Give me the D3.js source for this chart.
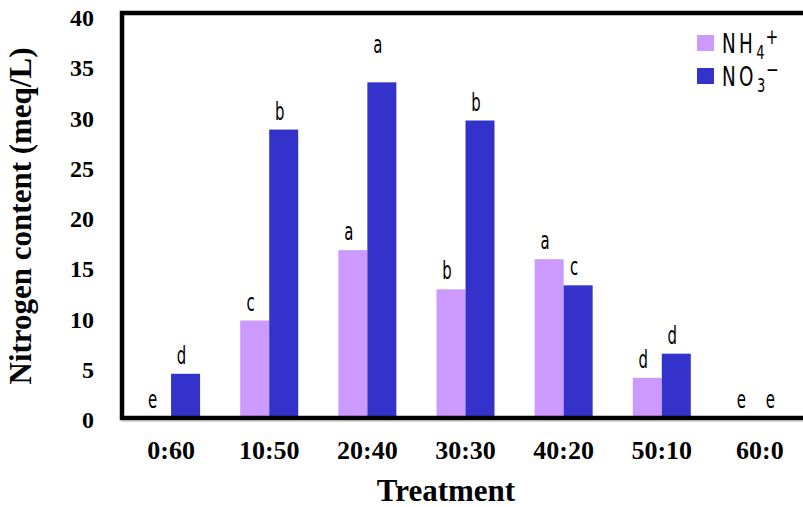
<!DOCTYPE html>
<html>
<head>
<meta charset="utf-8">
<script src="https://cdn.jsdelivr.net/npm/d3@7/dist/d3.min.js"></script>
<style>
  html, body { margin: 0; padding: 0; background: #fff; }
  svg { display: block; }
</style>
</head>
<body>
<svg id="chart" width="803" height="507"></svg>
<script>
// Nitrogen content by NH4+:NO3- treatment ratio
const categories = ["0:60", "10:50", "20:40", "30:30", "40:20", "50:10", "60:0"];
const nh4 = [0, 9.7, 16.7, 12.8, 15.8, 4.0, 0];
const no3 = [4.4, 28.7, 33.4, 29.6, 13.2, 6.4, 0];
const nh4Letters = ["e", "c", "a", "b", "a", "d", "e"];
const no3Letters = ["d", "b", "a", "b", "c", "d", "e"];
const yTicks = [0, 5, 10, 15, 20, 25, 30, 35, 40];

const colors = { nh4: "#CC99FF", no3: "#3333CC" };
const serif = "'Times New Roman', 'Liberation Serif', serif";
const narrow = "'Liberation Sans Narrow', 'DejaVu Sans Condensed', 'Arial Narrow', sans-serif";

const svg = d3.select("#chart");
const plot = { left: 122, right: 809, top: 13, bottom: 418 };

const x = d3.scaleBand().domain(categories).range([plot.left, plot.right]).padding(0);
const y = d3.scaleLinear().domain([0, 40]).range([plot.bottom, 16]);
const barW = 29;

const series = [
  { key: "nh4", values: nh4, letters: nh4Letters, offset: -barW },
  { key: "no3", values: no3, letters: no3Letters, offset: 0 }
];

// bars
series.forEach(s => {
  svg.append("g").selectAll("rect")
    .data(categories)
    .join("rect")
    .attr("x", (c) => x(c) + x.bandwidth() / 2 + s.offset)
    .attr("y", (c, i) => y(s.values[i]))
    .attr("width", barW)
    .attr("height", (c, i) => y(0) - y(s.values[i]))
    .attr("fill", colors[s.key]);
});

// significance letters (the tallest NO3- bar's letter sits higher)
const extraLift = { "no3|20:40": 19 };
series.forEach(s => {
  svg.append("g").selectAll("text")
    .data(categories)
    .join("text")
    .attr("transform", (c, i) => {
      const tx = x(c) + x.bandwidth() / 2 + s.offset + barW / 2 - 4;
      const ty = y(s.values[i]) - 10 - (extraLift[s.key + "|" + c] || 0);
      return `translate(${tx},${ty}) scale(0.72,1.08)`;
    })
    .attr("text-anchor", "middle")
    .attr("font-family", narrow)
    .attr("font-size", 23)
    .attr("fill", "#000")
    .text((c, i) => s.letters[i]);
});

// frame: left, top and bottom edges
const frame = svg.append("g").attr("stroke", "#000").attr("stroke-width", 4.5).attr("fill", "none");
frame.append("path")
  .attr("d", `M${plot.right},${plot.top}H${plot.left}V${plot.bottom}H${plot.right}`);
svg.append("line")
  .attr("x1", plot.left).attr("x2", plot.right)
  .attr("y1", plot.bottom + 3).attr("y2", plot.bottom + 3)
  .attr("stroke", "#aaa").attr("stroke-width", 1);

// y axis tick labels
const yAxis = d3.axisLeft(y).tickValues(yTicks).tickSize(0).tickPadding(0);
const yg = svg.append("g").attr("transform", `translate(94,2)`).call(yAxis);
yg.select(".domain").remove();
yg.selectAll("text")
  .attr("font-family", serif).attr("font-weight", "bold").attr("font-size", 24).attr("fill", "#000");

// x axis tick labels
const xAxis = d3.axisBottom(x).tickSize(0).tickPadding(0);
const xg = svg.append("g").attr("transform", `translate(0,${plot.bottom})`).call(xAxis);
xg.select(".domain").remove();
xg.selectAll("text")
  .attr("dy", 0).attr("y", 41)
  .attr("font-family", serif).attr("font-weight", "bold").attr("font-size", 26).attr("fill", "#000");

// axis titles
svg.append("text")
  .attr("x", 446).attr("y", 501)
  .attr("text-anchor", "middle")
  .attr("font-family", serif).attr("font-weight", "bold").attr("font-size", 31)
  .text("Treatment");

svg.append("text")
  .attr("transform", "translate(31,216) rotate(-90)")
  .attr("text-anchor", "middle")
  .attr("font-family", serif).attr("font-weight", "bold").attr("font-size", 31)
  .text("Nitrogen content (meq/L)");

// legend
const legendItems = [
  { key: "nh4", base: "NH", sub: "4", sup: "+" },
  { key: "no3", base: "NO", sub: "3", sup: "\u2212" }
];
const lg = svg.append("g").attr("transform", "translate(697,35)");
legendItems.forEach((d, i) => {
  const g = lg.append("g").attr("transform", `translate(0,${i * 33})`);
  g.append("rect").attr("width", 17).attr("height", 16).attr("fill", colors[d.key]);
  const t = g.append("text")
    .attr("transform", "translate(25,18) scale(0.85,1.1)")
    .attr("font-family", narrow).attr("font-size", 24)
    .attr("letter-spacing", 4).attr("fill", "#000");
  t.append("tspan").text(d.base);
  t.append("tspan").attr("font-size", 17).attr("dy", 5).attr("letter-spacing", 1).text(d.sub);
  t.append("tspan").attr("font-size", 20).attr("dy", -13).text(d.sup);
});
</script>
</body>
</html>
